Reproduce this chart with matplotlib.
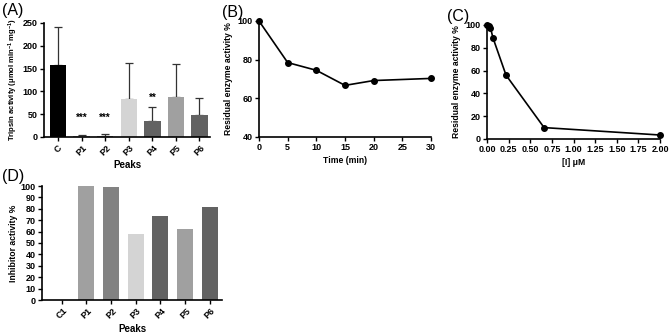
import matplotlib
matplotlib.use("Agg")
import matplotlib.pyplot as plt
import numpy as np

plt.rcParams['font.family'] = ['Liberation Sans', 'DejaVu Sans']
plt.rcParams['mathtext.fontset'] = 'custom'
plt.rcParams['mathtext.rm'] = 'Liberation Sans:bold'
plt.rcParams['mathtext.default'] = 'rm'

# Panel A
a_cats = ['C', 'P1', 'P2', 'P3', 'P4', 'P5', 'P6']
a_vals = [157, 2, 3, 84, 34, 87, 49]
a_err = [85, 1.5, 4, 78, 31, 73, 37]
a_colors = ['#000000', '#9a9a9a', '#7a7a7a', '#d4d4d4', '#626262', '#a0a0a0', '#626262']
a_stars = ['', '***', '***', '', '**', '', '']
a_star_y = [0, 42, 42, 0, 86, 0, 0]

# Panel B
b_time = [0, 5, 10, 15, 20, 30]
b_act = [100, 78.5, 74.5, 66.7, 69.2, 70.3]

# Panel C
c_conc = [0.0, 0.02, 0.04, 0.07, 0.22, 0.66, 2.0]
c_act = [100, 99, 97.5, 88.5, 56, 10, 3.5]

# Panel D
d_cats = ['C1', 'P1', 'P2', 'P3', 'P4', 'P5', 'P6']
d_vals = [0, 100, 99.5, 58, 74, 62, 82]
d_colors = ['#000000', '#a0a0a0', '#828282', '#d4d4d4', '#626262', '#a0a0a0', '#626262']

W, H = 669, 335
fig = plt.figure(figsize=(W/100, H/100), dpi=100)

def ax_px(l, r, t, b):
    return fig.add_axes([l/W, 1-b/H, (r-l)/W, (b-t)/H])

tick_fs = 6.5
lab_fs = 6.2

def style(ax):
    for s in ['top', 'right']:
        ax.spines[s].set_visible(False)
    for s in ['left', 'bottom']:
        ax.spines[s].set_linewidth(1.2)
    ax.tick_params(width=1.0, length=3, labelsize=tick_fs, pad=1.5)
    for t in ax.get_xticklabels() + ax.get_yticklabels():
        t.set_fontweight('bold')

# A
axA = ax_px(44, 210, 23, 137)
x = np.arange(len(a_cats))
axA.bar(x, a_vals, width=0.7, color=a_colors, zorder=2)
axA.errorbar(x, a_vals, yerr=[np.zeros(len(a_err)), a_err], fmt='none',
             ecolor='#333333', elinewidth=0.9, capsize=3, capthick=0.9, zorder=1)
for xi, s, sy in zip(x, a_stars, a_star_y):
    if s:
        axA.text(xi, sy, s, ha='center', va='center', fontsize=7, fontweight='bold')
axA.set_xlim(-0.6, 6.45)
axA.set_ylim(0, 250)
axA.set_yticks([0, 50, 100, 150, 200, 250])
axA.set_xticks(x)
axA.set_xticklabels(a_cats, rotation=45, ha='center')
axA.set_ylabel('Tripsin activity (μmol min$^{-1}$ mg$^{-1}$)', fontsize=5.5, fontweight='bold', labelpad=2)
axA.set_xlabel('Peaks', fontsize=lab_fs+0.8, fontweight='bold', labelpad=2)
style(axA)

# B
axB = ax_px(259, 431, 21, 137)
axB.plot(b_time, b_act, color='black', lw=1.2, marker='o', ms=4, clip_on=False, zorder=3)
axB.set_xlim(0, 30)
axB.set_ylim(40, 100)
axB.set_yticks([40, 60, 80, 100])
axB.set_xticks([0, 5, 10, 15, 20, 25, 30])
axB.set_xlabel('Time (min)', fontsize=lab_fs, fontweight='bold', labelpad=3)
axB.set_ylabel('Residual enzyme activity %', fontsize=lab_fs, fontweight='bold', labelpad=3)
style(axB)

# C
axC = ax_px(487, 660, 25, 139)
axC.plot(c_conc, c_act, color='black', lw=1.2, marker='o', ms=4, clip_on=False, zorder=3)
axC.set_xlim(0, 2.0)
axC.set_ylim(0, 100)
axC.set_yticks([0, 20, 40, 60, 80, 100])
axC.set_xticks(np.arange(0, 2.01, 0.25))
axC.set_xticklabels(['%.2f' % v for v in np.arange(0, 2.01, 0.25)])
axC.set_xlabel('[I] μM', fontsize=lab_fs, fontweight='bold', labelpad=3)
axC.set_ylabel('Residual enzyme activity %', fontsize=lab_fs, fontweight='bold', labelpad=3)
style(axC)

# D
axD = ax_px(42, 222, 186, 300)
xd = np.arange(len(d_cats))
axD.bar(xd, d_vals, width=0.65, color=d_colors)
axD.set_xlim(-0.8, 6.5)
axD.set_ylim(0, 100)
axD.set_yticks(np.arange(0, 101, 10))
axD.set_xticks(xd)
axD.set_xticklabels(d_cats, rotation=45, ha='center')
axD.set_xlabel('Peaks', fontsize=lab_fs+0.8, fontweight='bold', labelpad=2)
axD.set_ylabel('Inhibitor activity %', fontsize=lab_fs, fontweight='bold', labelpad=2)
style(axD)

# panel letters
for lbl, px, py in [('(A)', 2, 11), ('(B)', 222, 12), ('(C)', 447, 17), ('(D)', 2, 177)]:
    fig.text(px/W, 1-py/H, lbl, fontsize=11.5, ha='left', va='center')

fig.savefig('out.png', dpi=100)
